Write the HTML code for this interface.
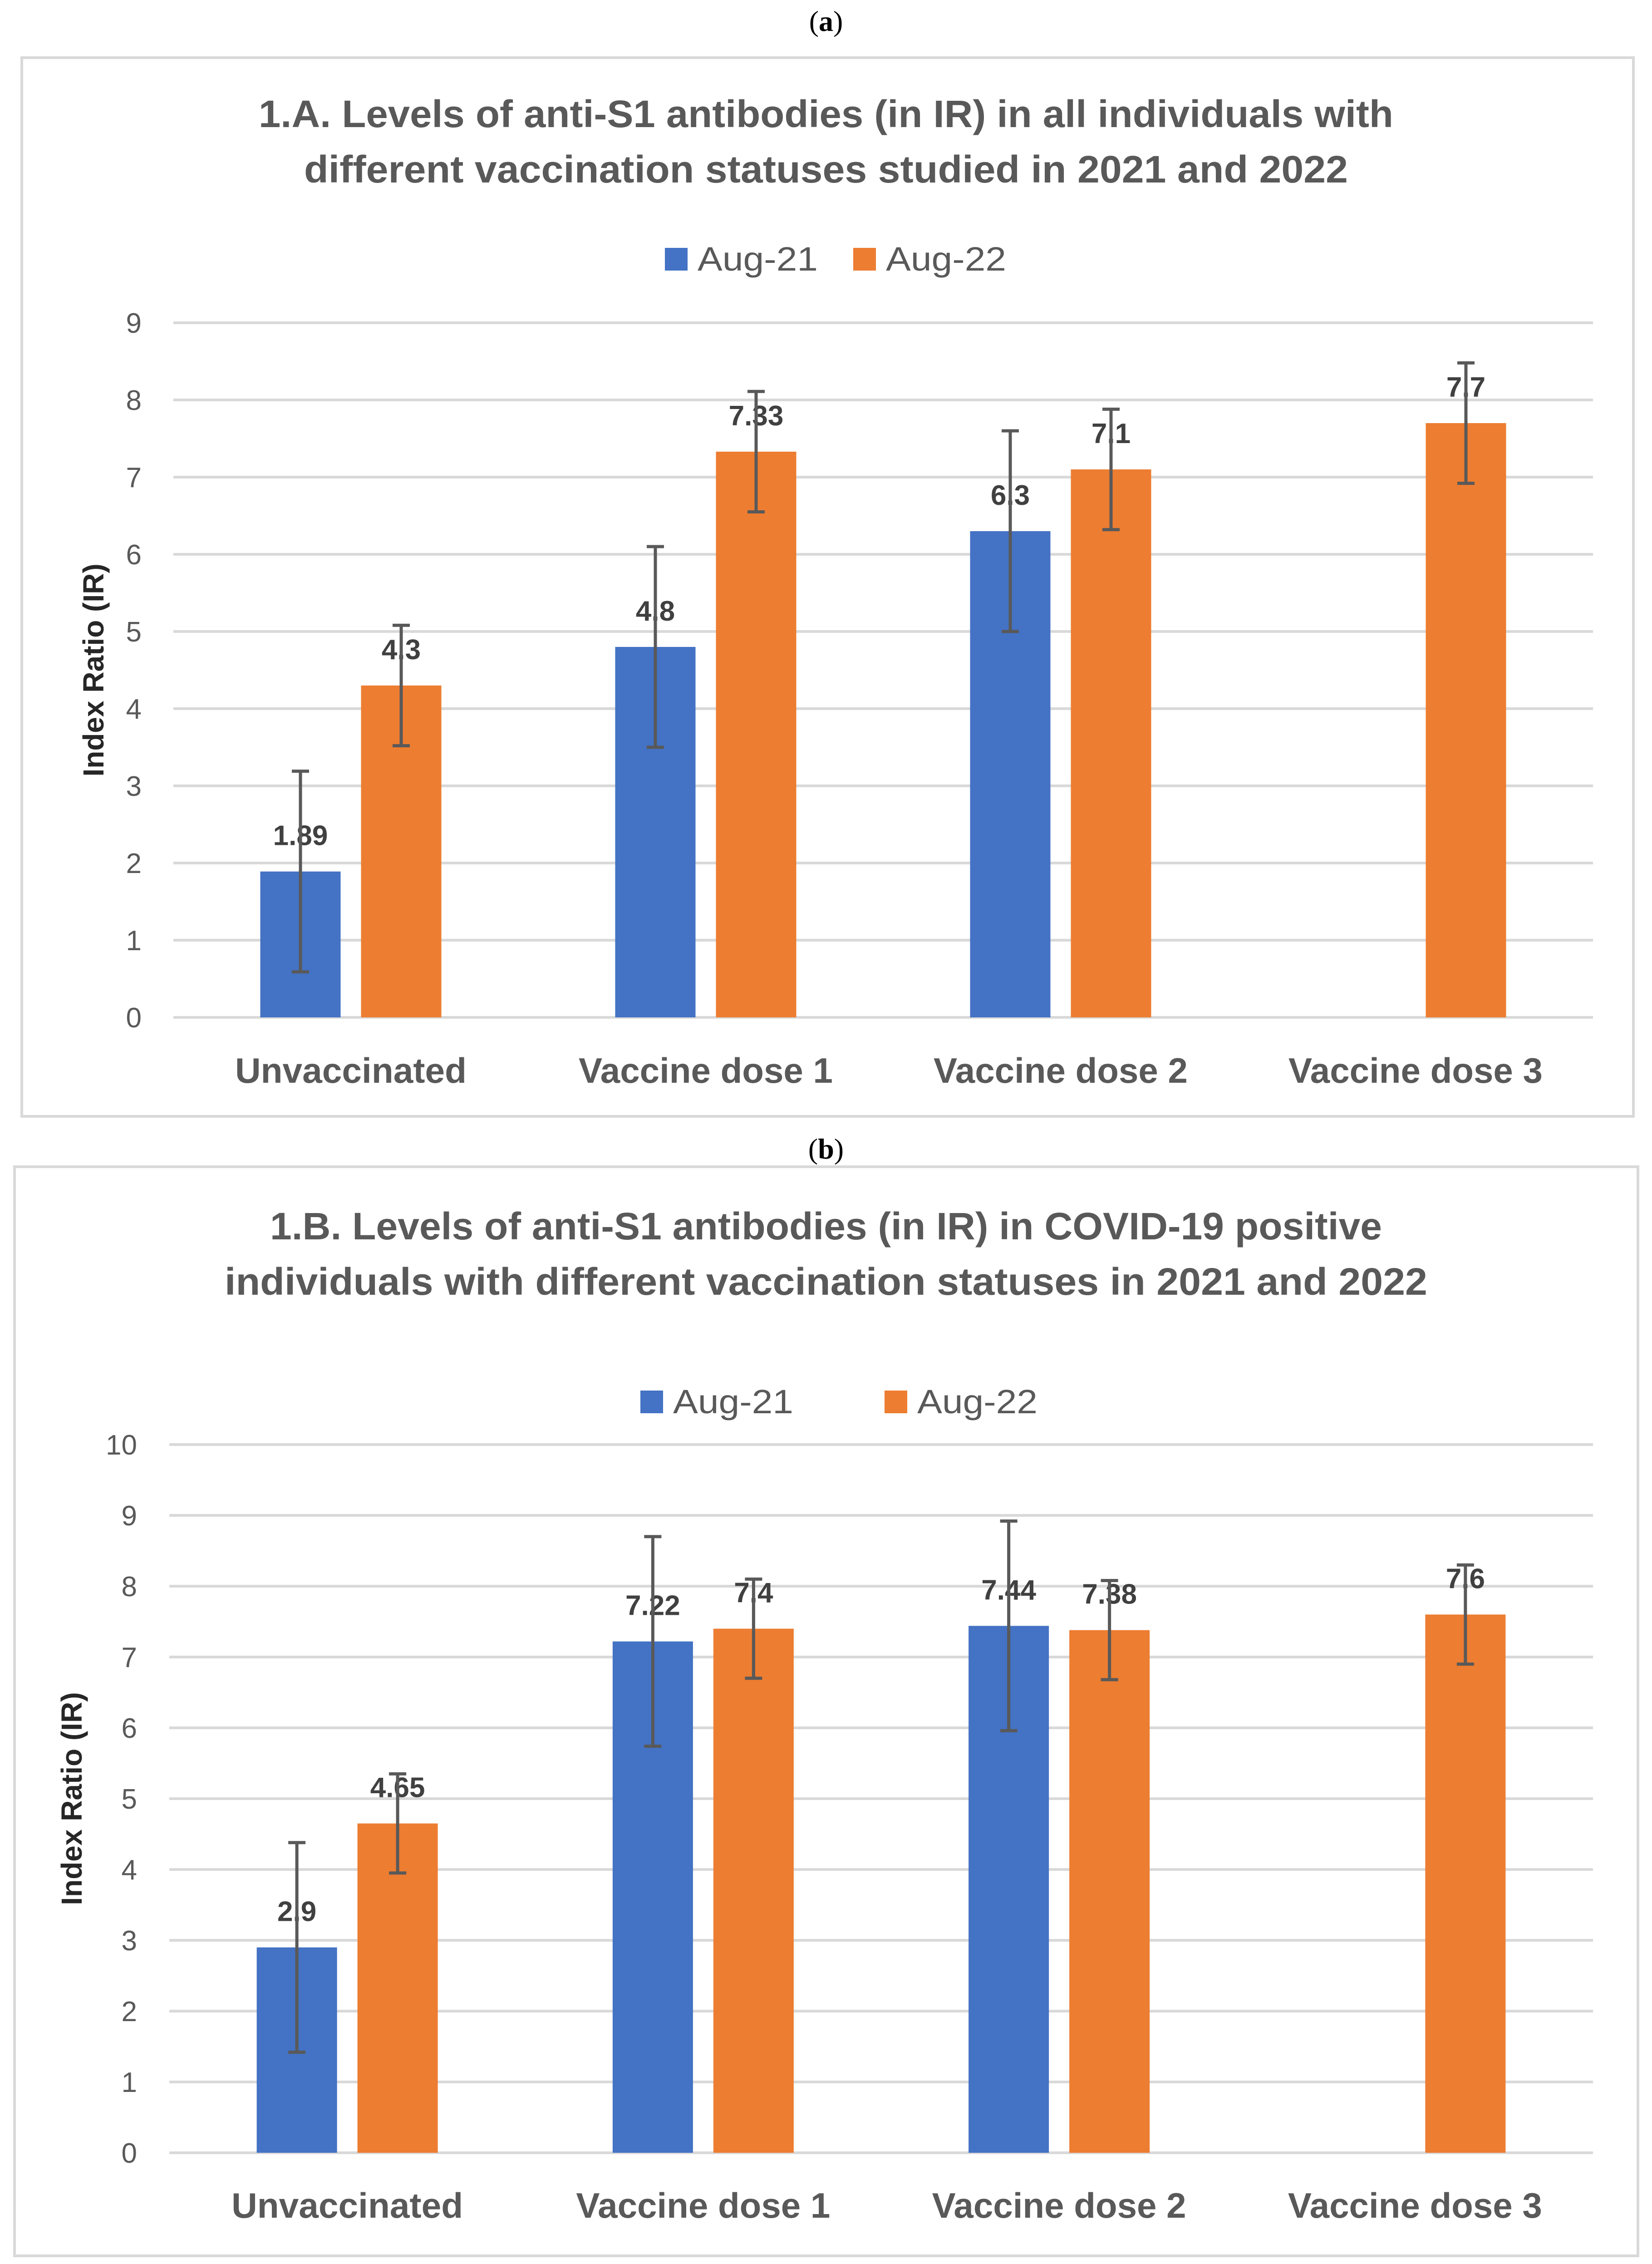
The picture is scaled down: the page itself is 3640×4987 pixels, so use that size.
<!DOCTYPE html>
<html><head><meta charset="utf-8">
<style>
html,body{margin:0;padding:0;background:#fff;}
svg{display:block;}
text{font-family:"Liberation Sans",sans-serif;}
</style></head>
<body>
<svg id="fig" width="3640" height="4987" viewBox="0 0 3640 4987" xmlns="http://www.w3.org/2000/svg">
  <text x="1820" y="68" text-anchor="middle" font-family="Liberation Serif" font-size="64" fill="#000" style="font-family:'Liberation Serif',serif">(<tspan font-weight="bold">a</tspan>)</text>
  <rect x="48" y="127" width="3551" height="2332" fill="#fff" stroke="#d9d9d9" stroke-width="6"/>
  <text x="1820" y="2552" text-anchor="middle" font-size="64" fill="#000" style="font-family:'Liberation Serif',serif">(<tspan font-weight="bold">b</tspan>)</text>
  <rect x="32" y="2570" width="3577" height="2399" fill="#fff" stroke="#d9d9d9" stroke-width="6"/>
  <g id="chartA"></g>
  <g id="chartB"></g>
</svg>
<script>
const categories = ["Unvaccinated", "Vaccine dose 1", "Vaccine dose 2", "Vaccine dose 3"];
const seriesNames = ["Aug-21", "Aug-22"];
const aAug21 = [1.89, 4.8, 6.3, null];
const aAug22 = [4.3, 7.33, 7.1, 7.7];
const aErr21 = [1.3, 1.3, 1.3, null];
const aErr22 = [0.78, 0.78, 0.78, 0.78];
const aTicks = [0,1,2,3,4,5,6,7,8,9];
const bAug21 = [2.9, 7.22, 7.44, null];
const bAug22 = [4.65, 7.4, 7.38, 7.6];
const bErr21 = [1.48, 1.48, 1.48, null];
const bErr22 = [0.7, 0.7, 0.7, 0.7];
const bTicks = [0,1,2,3,4,5,6,7,8,9,10];

const NS = "http://www.w3.org/2000/svg";
function mk(parent, tag, attrs, txt){
  const e = document.createElementNS(NS, tag);
  for (const k in attrs) e.setAttribute(k, attrs[k]);
  if (txt !== undefined) e.textContent = txt;
  parent.appendChild(e);
  return e;
}
function drawChart(g, cfg, s21, s22, e21, e22, ticks){
  const x0 = cfg.x0, x1 = cfg.x1, yTop = cfg.yTop, yBot = cfg.yBot;
  const maxV = ticks[ticks.length-1];
  const y = v => yBot - (v / maxV) * (yBot - yTop);
  const band = (x1 - x0) / categories.length;
  const cx = i => x0 + band * (i + 0.5);
  // title
  cfg.title.forEach((t, i) => {
    const el = mk(g, "text", {x: 1820, y: cfg.titleY[i], "text-anchor": "middle", "font-size": 84, "font-weight": "bold", fill: "#595959", textLength: cfg.titleLen[i], lengthAdjust: "spacingAndGlyphs"}, t);
    
    
  });
  // legend
  const colors = ["#4472C4", "#ED7D31"];
  seriesNames.forEach((n, i) => {
    const sq = mk(g, "rect", {x: cfg.legX[i], y: cfg.legY - 50, width: 50, height: 50, fill: colors[i]});
    
    
    const lt = mk(g, "text", {x: cfg.legX[i] + 72, y: cfg.legY, "font-size": 74, fill: "#595959", textLength: 265, lengthAdjust: "spacingAndGlyphs"}, n);
    
    
  });
  // gridlines & ticks
  ticks.forEach(t => {
    const gl = mk(g, "line", {x1: x0, x2: x1, y1: y(t), y2: y(t), stroke: "#d9d9d9", "stroke-width": 6});
    
    
    const tl = mk(g, "text", {x: cfg.tickX, y: y(t) + 22, "text-anchor": "end", "font-size": 62, fill: "#595959"}, String(t));
    
    
  });
  // y axis title
  const yt = mk(g, "text", {x: 0, y: 0, "text-anchor": "middle", "font-size": 64, "font-weight": "bold", fill: "#262626", transform: `translate(${cfg.yTitleX},${(yTop+yBot)/2}) rotate(-90)`}, "Index Ratio (IR)");
  
  
  // bars
  const bw = 177, off = 111;
  const series = [[s21, e21, -off, colors[0], "aug21"], [s22, e22, off, colors[1], "aug22"]];
  series.forEach(([vals, errs, dx, col, key]) => {
    vals.forEach((v, i) => {
      if (v === null) return;
      const bx = cx(i) + dx;
      const r = mk(g, "rect", {x: bx - bw/2, y: y(v), width: bw, height: yBot - y(v), fill: col});
      
      
      const lbl = mk(g, "text", {x: bx, y: y(v) - 58, "text-anchor": "middle", "font-size": 62, "font-weight": "bold", fill: "#404040"}, String(v));
      
      
      const e = errs[i];
      const eg = mk(g, "g", {stroke: "#595959", "stroke-width": 7});
      
      
      mk(eg, "line", {x1: bx, x2: bx, y1: y(v + e), y2: y(v - e)});
      mk(eg, "line", {x1: bx - 19, x2: bx + 19, y1: y(v + e), y2: y(v + e)});
      mk(eg, "line", {x1: bx - 19, x2: bx + 19, y1: y(v - e), y2: y(v - e)});
    });
  });
  // category labels
  categories.forEach((c, i) => {
    const cl = mk(g, "text", {x: cx(i), y: cfg.catY, "text-anchor": "middle", "font-size": 78, "font-weight": "bold", fill: "#595959", textLength: c === "Unvaccinated" ? 510 : 560, lengthAdjust: "spacingAndGlyphs"}, c);
    
    
  });
}
drawChart(document.getElementById("chartA"), {
  x0: 382, x1: 3510, yTop: 711, yBot: 2241, tickX: 312, yTitleX: 228, catY: 2385,
  title: ["1.A. Levels of anti-S1 antibodies (in IR) in all individuals with", "different vaccination statuses studied in 2021 and 2022"],
  titleY: [280, 402], titleLen: [2500, 2300], legX: [1465, 1880], legY: 596
}, aAug21, aAug22, aErr21, aErr22, aTicks);
drawChart(document.getElementById("chartB"), {
  x0: 373, x1: 3510, yTop: 3182, yBot: 4742, tickX: 302, yTitleX: 180, catY: 4885,
  title: ["1.B. Levels of anti-S1 antibodies (in IR) in COVID-19 positive", "individuals with different vaccination statuses in 2021 and 2022"],
  titleY: [2730, 2852], titleLen: [2450, 2650], legX: [1411, 1949], legY: 3113
}, bAug21, bAug22, bErr21, bErr22, bTicks);
</script>
</body></html>
